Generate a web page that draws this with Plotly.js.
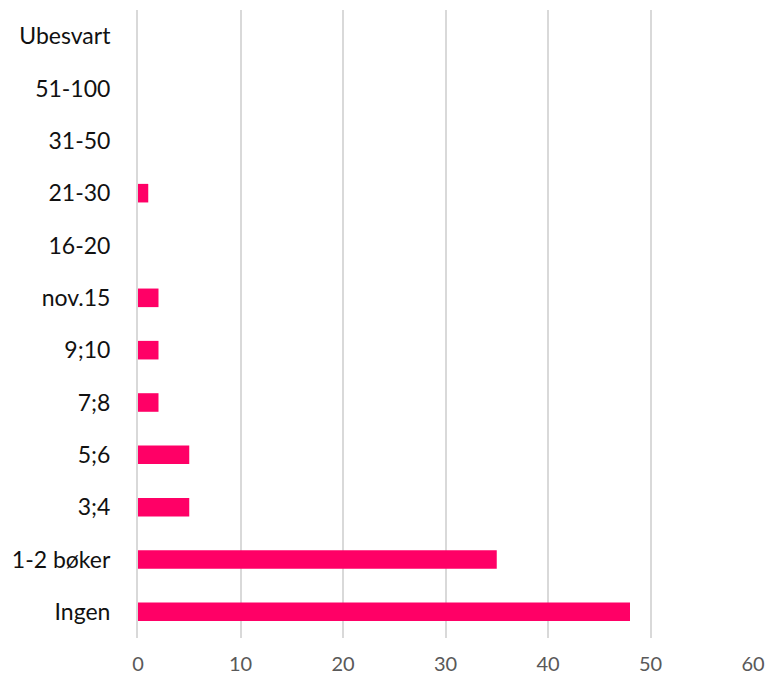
<!DOCTYPE html>
<html>
<head>
<meta charset="utf-8">
<script src="https://cdn.plot.ly/plotly-3.0.1.min.js"></script>
<style>html,body{margin:0;padding:0;background:#fff;}#chart{width:767px;height:680px;}</style>
</head>
<body>
<div id="chart"></div>
<script>
const categories = ["Ingen", "1-2 bøker", "3;4", "5;6", "7;8", "9;10", "nov.15", "16-20", "21-30", "31-50", "51-100", "Ubesvart"];
const values = [48, 35, 5, 5, 2, 2, 2, 0, 1, 0, 0, 0];
const xTicks = [0, 10, 20, 30, 40, 50, 60];

const trace = {
  type: 'bar',
  orientation: 'h',
  y: categories,
  x: values,
  marker: {color: '#FF0066'},
  hoverinfo: 'x+y'
};

const layout = {
  width: 767,
  height: 680,
  margin: {l: 138, r: 14, t: 10, b: 42},
  paper_bgcolor: '#fff',
  plot_bgcolor: '#fff',
  bargap: 0.645,
  showlegend: false,
  font: {family: 'Lato, "Open Sans", sans-serif', size: 20, color: '#000'},
  xaxis: {
    range: [0, 60],
    tickvals: xTicks,
    ticktext: xTicks.map(String),
    showgrid: true,
    gridcolor: '#D9D9D9',
    gridwidth: 2,
    zeroline: false,
    showline: false,
    ticks: '',
    ticklabelstandoff: 12,
    tickfont: {size: 20, color: '#595959'},
    fixedrange: true
  },
  yaxis: {
    type: 'category',
    categoryorder: 'array',
    categoryarray: categories,
    showgrid: false,
    zeroline: false,
    showline: true,
    linecolor: '#D9D9D9',
    linewidth: 2,
    ticks: '',
    ticklabelstandoff: 21,
    tickfont: {size: 23, color: '#111'},
    fixedrange: true
  }
};

Plotly.newPlot('chart', [trace], layout, {displayModeBar: false, staticPlot: true});
</script>
</body>
</html>
